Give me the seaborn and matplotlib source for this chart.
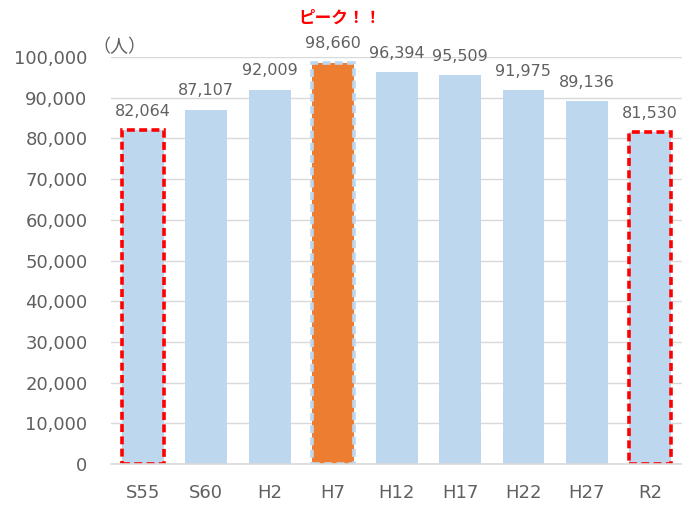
import numpy as np
import pandas as pd
import matplotlib
matplotlib.use("Agg")
import matplotlib.pyplot as plt
import seaborn as sns

# population by census year
years = ["S55", "S60", "H2", "H7", "H12", "H17", "H22", "H27", "R2"]
population = [82064, 87107, 92009, 98660, 96394, 95509, 91975, 89136, 81530]
yticks = list(range(0, 100001, 10000))

peak_year = "H7"
boxed_years = ["S55", "R2"]

sns.set_theme(style="white")
plt.rcParams["font.family"] = ["DejaVu Sans", "Noto Sans CJK JP"]

blue = "#BDD7EE"
orange = "#ED7D31"
gray = "#606060"

df = pd.DataFrame({"year": years, "pop": population})
palette = {y: (orange if y == peak_year else blue) for y in years}

fig = plt.figure(figsize=(6.82, 5.05), dpi=100)
ax = fig.add_axes([0.163, 0.081, 0.837, 0.806])

sns.barplot(data=df, x="year", y="pop", hue="year", palette=palette,
            order=years, width=0.66, legend=False, ax=ax, saturation=1)

for patch, y in zip(ax.patches, years):
    if y in boxed_years:
        patch.set_edgecolor("#FF0000")
        patch.set_linestyle((0, (2.2, 1.2)))
        patch.set_linewidth(2.6)
    elif y == peak_year:
        patch.set_edgecolor(blue)
        patch.set_linestyle((0, (2.2, 1.2)))
        patch.set_linewidth(2.6)
    else:
        patch.set_linewidth(0)

for i, v in enumerate(population):
    ax.annotate(f"{v:,}", (i, v), xytext=(0, 8), textcoords="offset points",
                ha="center", va="bottom", fontsize=11.5, color=gray)

ax.set_ylim(0, 100000)
ax.set_xlim(-0.5, len(years) - 0.5)
ax.set_yticks(yticks)
ax.set_yticklabels([f"{t:,}" for t in yticks])
ax.yaxis.grid(True, color="#D9D9D9", linewidth=1)
ax.set_axisbelow(True)
ax.tick_params(axis="y", labelsize=13, labelcolor=gray, length=0, pad=17)
ax.tick_params(axis="x", labelsize=13, labelcolor=gray, length=0, pad=14)
ax.set_xlabel("")
ax.set_ylabel("")
for side in ["top", "right", "left"]:
    ax.spines[side].set_visible(False)
ax.spines["bottom"].set_color("#D9D9D9")
ax.spines["bottom"].set_linewidth(1.2)

fig.text(92 / 682, 1 - 47 / 505, "（人）", fontsize=13, color=gray,
         family=["Noto Sans CJK JP"], ha="left", va="center")
fig.text(340 / 682, 1 - 18 / 505, "ピーク！！", fontsize=12, color="#FF0000",
         fontweight="bold", family=["Noto Sans CJK JP"], ha="center", va="center")

fig.savefig("out.png", dpi=100)
